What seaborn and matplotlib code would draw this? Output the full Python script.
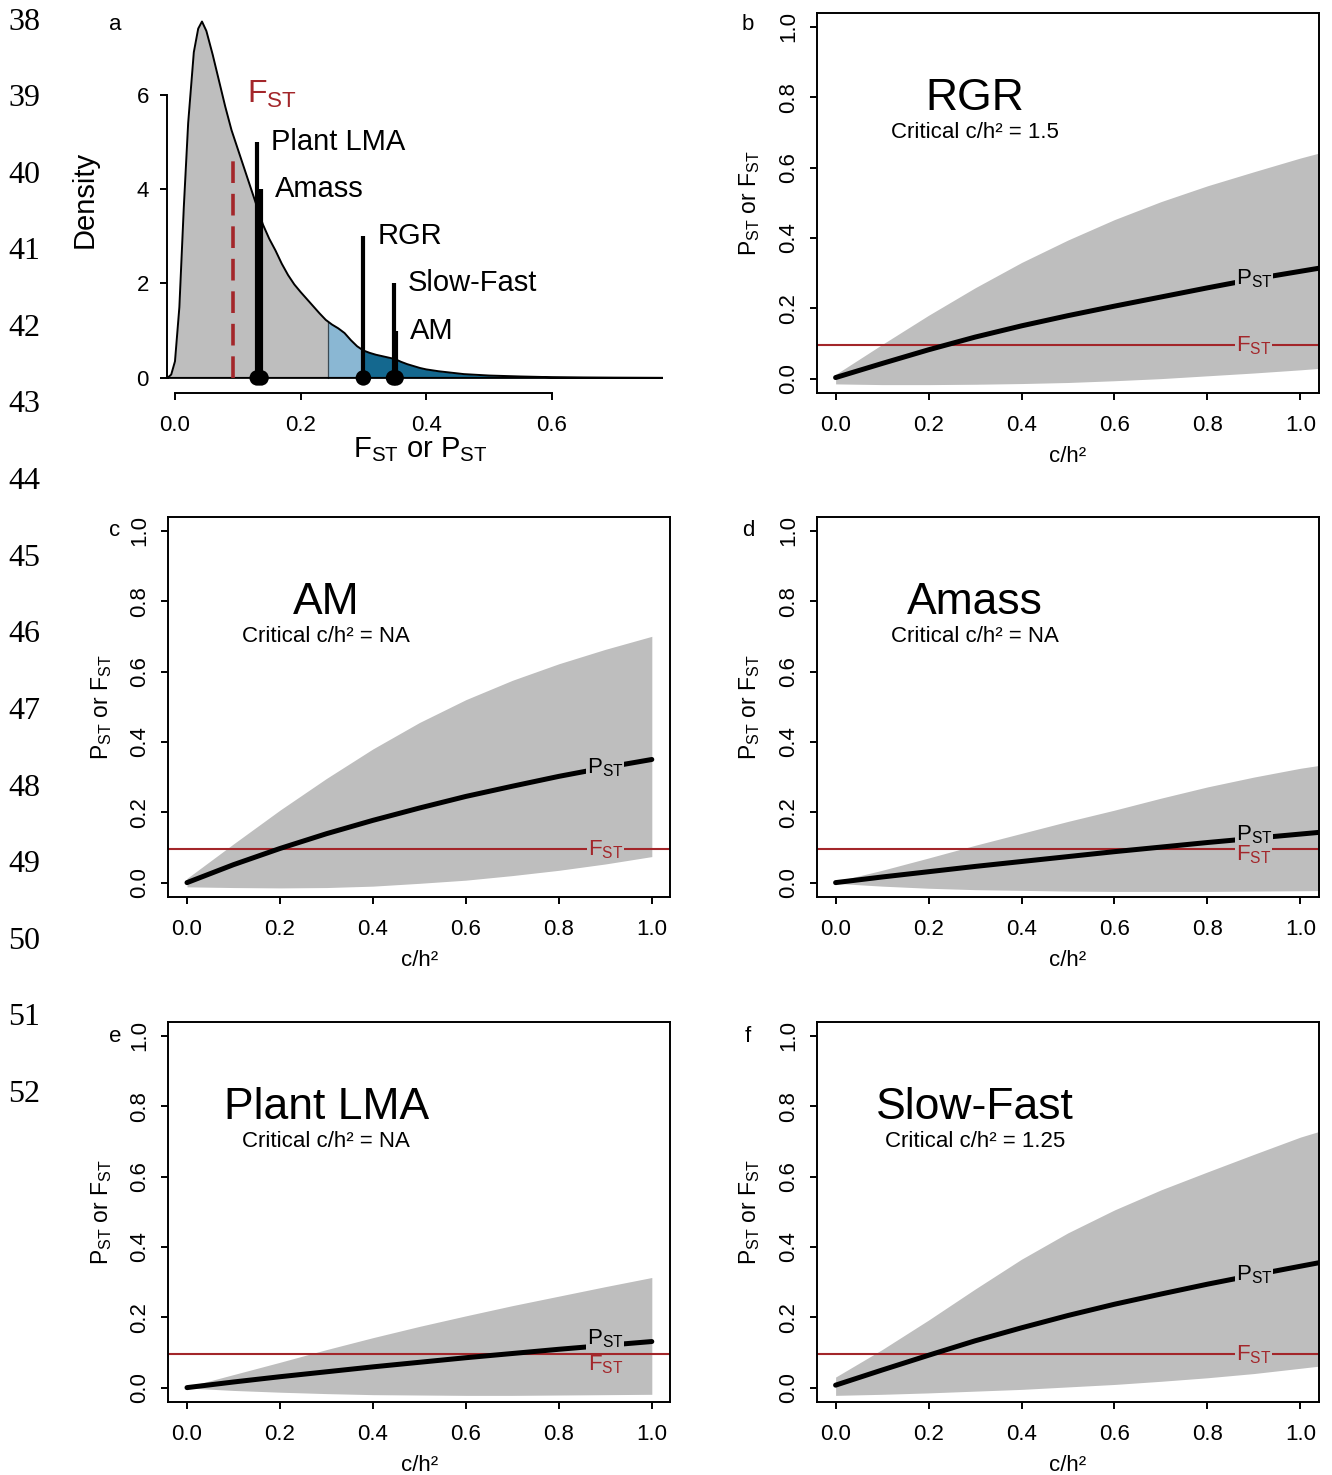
import numpy as np
import matplotlib
matplotlib.use("Agg")
import matplotlib.pyplot as plt
import seaborn as sns

# ---------------- panel a: null distribution of F_ST and observed P_ST ----------------
dens_x = [-0.012, -0.006, 0.000, 0.007, 0.014, 0.021, 0.030, 0.037, 0.043, 0.050,
          0.060, 0.070, 0.080, 0.090, 0.100, 0.110, 0.120, 0.130, 0.140, 0.150,
          0.160, 0.170, 0.180, 0.190, 0.200, 0.210, 0.220, 0.230, 0.240, 0.250,
          0.260, 0.270, 0.280, 0.290, 0.300, 0.310, 0.320, 0.330, 0.340, 0.350,
          0.360, 0.370, 0.380, 0.390, 0.400, 0.420, 0.440, 0.460, 0.480, 0.500,
          0.550, 0.600, 0.650, 0.700, 0.777]
dens_y = [0.00, 0.07, 0.35, 1.50, 3.60, 5.40, 6.90, 7.40, 7.55, 7.35,
          6.85, 6.30, 5.75, 5.25, 4.85, 4.45, 4.05, 3.65, 3.25, 2.95,
          2.70, 2.42, 2.18, 1.98, 1.82, 1.67, 1.52, 1.37, 1.23, 1.13,
          1.05, 0.95, 0.80, 0.67, 0.58, 0.53, 0.49, 0.46, 0.43, 0.40,
          0.34, 0.29, 0.25, 0.21, 0.18, 0.14, 0.11, 0.08, 0.065, 0.05,
          0.03, 0.015, 0.008, 0.004, 0.0]
fst_mean = 0.093
fst_marker_height = 4.8
q_light = 0.244
q_dark = 0.300

traits = ["Plant LMA", "Amass", "RGR", "Slow-Fast", "AM"]
pst_obs = [0.131, 0.137, 0.300, 0.348, 0.352]
bar_heights = [5, 4, 3, 2, 1]

# ---------------- panels b-f: P_ST against c/h² ----------------
ch2_long = [0.0, 0.1, 0.2, 0.3, 0.4, 0.5, 0.6, 0.7, 0.8, 0.9, 1.0, 1.1]
ch2_short = [0.0, 0.1, 0.2, 0.3, 0.4, 0.5, 0.6, 0.7, 0.8, 0.9, 1.0]
fst_value = 0.095

rgr_pst = [0.003, 0.043, 0.082, 0.118, 0.150, 0.179, 0.206, 0.232, 0.258, 0.283, 0.305, 0.327]
rgr_lo = [-0.015, -0.017, -0.017, -0.016, -0.014, -0.011, -0.006, 0.000, 0.008, 0.016, 0.025, 0.035]
rgr_hi = [0.012, 0.097, 0.180, 0.258, 0.330, 0.394, 0.452, 0.503, 0.548, 0.588, 0.627, 0.662]

am_pst = [0.000, 0.051, 0.097, 0.139, 0.177, 0.212, 0.245, 0.274, 0.302, 0.327, 0.350]
am_lo = [-0.012, -0.014, -0.015, -0.014, -0.010, -0.002, 0.007, 0.020, 0.035, 0.053, 0.074]
am_hi = [0.012, 0.110, 0.206, 0.296, 0.380, 0.455, 0.520, 0.575, 0.622, 0.663, 0.700]

amass_pst = [0.000, 0.016, 0.031, 0.046, 0.060, 0.074, 0.088, 0.101, 0.114, 0.126, 0.138, 0.150]
amass_lo = [-0.002, -0.010, -0.016, -0.020, -0.022, -0.024, -0.025, -0.025, -0.025, -0.024, -0.023, -0.022]
amass_hi = [0.003, 0.035, 0.070, 0.106, 0.140, 0.174, 0.206, 0.240, 0.272, 0.300, 0.325, 0.345]

lma_pst = [0.000, 0.016, 0.031, 0.045, 0.059, 0.072, 0.085, 0.097, 0.109, 0.120, 0.131]
lma_lo = [-0.001, -0.008, -0.013, -0.017, -0.020, -0.021, -0.022, -0.022, -0.021, -0.020, -0.019]
lma_hi = [0.002, 0.037, 0.072, 0.108, 0.142, 0.174, 0.204, 0.233, 0.260, 0.287, 0.313]

sf_pst = [0.007, 0.050, 0.092, 0.133, 0.170, 0.205, 0.237, 0.266, 0.294, 0.320, 0.345, 0.370]
sf_lo = [-0.022, -0.019, -0.015, -0.010, -0.005, 0.002, 0.009, 0.018, 0.028, 0.040, 0.055, 0.070]
sf_hi = [0.030, 0.108, 0.192, 0.280, 0.365, 0.440, 0.505, 0.562, 0.613, 0.663, 0.712, 0.752]

critical = {"RGR": "1.5", "AM": "NA", "Amass": "NA", "Plant LMA": "NA", "Slow-Fast": "1.25"}
line_numbers = list(range(38, 53))

# ---------------- style ----------------
sns.set_theme(style="ticks")
plt.rcParams["font.family"] = ["Liberation Sans", "DejaVu Sans"]
plt.rcParams["mathtext.default"] = "regular"
plt.rcParams["axes.edgecolor"] = "black"
plt.rcParams["axes.labelcolor"] = "black"
plt.rcParams["text.color"] = "black"
plt.rcParams["xtick.color"] = "black"
plt.rcParams["ytick.color"] = "black"

GREY = "#bebebe"
RED = "#a3262a"
LIGHT_BLUE = "#8ab7d3"
DARK_BLUE = "#14688f"

W, H = 1332, 1475
fig = plt.figure(figsize=(W / 100, H / 100), dpi=100)


def px_axes(left, top, right, bottom):
    return fig.add_axes([left / W, 1 - bottom / H, (right - left) / W, (bottom - top) / H])


# ---------------- panel a ----------------
ax = px_axes(167, 5, 663, 393)
ax.set_xlim(-0.0127, 0.777)
ax.set_ylim(-0.32, 7.9)

dx = np.array(dens_x)
dy = np.array(dens_y)


def segment(lo, hi):
    inner = dx[(dx > lo) & (dx < hi)]
    xs = np.concatenate([[lo], inner, [hi]])
    return xs, np.interp(xs, dx, dy)


xs, ys = segment(dx[0], q_light)
ax.fill_between(xs, 0, ys, color=GREY, lw=0, zorder=1)
xs, ys = segment(q_light, q_dark)
ax.fill_between(xs, 0, ys, color=LIGHT_BLUE, lw=0, zorder=1)
xs, ys = segment(q_dark, dx[-1])
ax.fill_between(xs, 0, ys, color=DARK_BLUE, lw=0, zorder=1)
ax.plot([q_light, q_light], [0, np.interp(q_light, dx, dy)], color="#3a4a55", lw=0.9, zorder=2)

sns.lineplot(x=list(dens_x) + [dens_x[0]], y=list(dens_y) + [0.0], sort=False,
             estimator=None, color="black", lw=1.4, ax=ax, zorder=3)

ax.plot([fst_mean, fst_mean], [0, fst_marker_height], color=RED, lw=2.6,
        ls=(0, (6, 3)), zorder=4)
ax.text(fst_mean + 0.022, 6.0, r"$\mathregular{F_{ST}}$", color=RED, size=23,
        ha="left", va="center")

ax.vlines(pst_obs, 0, bar_heights, color="black", lw=3.0, zorder=5)
sns.scatterplot(x=pst_obs, y=[0] * len(pst_obs), s=125, color="black",
                edgecolor="none", ax=ax, zorder=6, clip_on=False)
for name, xv, hv in zip(traits, pst_obs, bar_heights):
    ax.text(xv + 0.022, hv, name, size=21, ha="left", va="center")

for side in ["top", "right"]:
    ax.spines[side].set_visible(False)
ax.spines["left"].set_bounds(0, 6)
ax.spines["bottom"].set_bounds(0, 0.6)
for side in ["left", "bottom"]:
    ax.spines[side].set_linewidth(1.4)
ax.set_xticks([0, 0.2, 0.4, 0.6])
ax.set_xticklabels(["0.0", "0.2", "0.4", "0.6"])
ax.set_yticks([0, 2, 4, 6])
ax.set_yticklabels(["0", "2", "4", "6"])
ax.tick_params(axis="x", direction="out", length=5, width=1.4, labelsize=16, pad=11)
ax.tick_params(axis="y", direction="out", length=5, width=1.4, labelsize=16, pad=8)
ax.set_xlabel(r"$\mathregular{F_{ST}}$ or $\mathregular{P_{ST}}$", size=21)
ax.xaxis.set_label_coords(0.51, -57 / 388)
ax.xaxis.label.set_va("center")
ax.set_ylabel("Density", size=21)
ax.yaxis.set_label_coords(-82 / 496, 0.5)
ax.yaxis.label.set_va("center")

# ---------------- panels b-f ----------------
panels = [
    ("RGR", "b", (817, 12.7), ch2_long, rgr_pst, rgr_lo, rgr_hi, (0.0, 0.0)),
    ("AM", "c", (168.4, 516.7), ch2_short, am_pst, am_lo, am_hi, (0.0, 0.0)),
    ("Amass", "d", (817, 516.7), ch2_long, amass_pst, amass_lo, amass_hi, (0.010, -0.016)),
    ("Plant LMA", "e", (168.4, 1021.7), ch2_short, lma_pst, lma_lo, lma_hi, (0.020, -0.031)),
    ("Slow-Fast", "f", (817, 1021.7), ch2_long, sf_pst, sf_lo, sf_hi, (0.0, 0.0)),
]

BOX_W, BOX_H = 502, 380
for name, letter, (left, top), ch2, pst, lo, hi, (dp, df) in panels:
    ax = px_axes(left, top, left + BOX_W, top + BOX_H)
    ax.set_xlim(-0.04, 1.04)
    ax.set_ylim(-0.04, 1.04)

    ax.fill_between(ch2, lo, hi, color=GREY, lw=0, zorder=1)
    ax.axhline(fst_value, color=RED, lw=1.5, zorder=2)
    sns.lineplot(x=ch2, y=pst, color="black", lw=3.6, ax=ax, zorder=3)

    p_lab = np.interp(0.9, ch2, pst) + dp
    ax.text(0.9, p_lab, r"$\mathregular{P_{ST}}$", size=16, ha="center", va="center",
            zorder=4, bbox=dict(facecolor=GREY, edgecolor="none", pad=0.6))
    f_box = dict(facecolor=GREY, edgecolor="none", pad=0.6) if df > -0.02 else None
    ax.text(0.9, fst_value + df, r"$\mathregular{F_{ST}}$", size=16, color=RED,
            ha="center", va="center", zorder=4 if f_box else 1.5, bbox=f_box)

    ax.text(0.3, 0.797, name, size=32, ha="center", va="center")
    ax.text(0.3, 0.70, "Critical c/h\u00b2 = " + critical[name], size=16,
            ha="center", va="center")

    ticks = [0.0, 0.2, 0.4, 0.6, 0.8, 1.0]
    labels = ["0.0", "0.2", "0.4", "0.6", "0.8", "1.0"]
    ax.set_xticks(ticks)
    ax.set_xticklabels(labels)
    ax.set_yticks(ticks)
    ax.set_yticklabels(labels, rotation=90, va="center")
    ax.tick_params(axis="x", direction="out", length=5, width=1.4, labelsize=16, pad=11)
    ax.tick_params(axis="y", direction="out", length=5, width=1.4, labelsize=16, pad=8)
    for sp in ax.spines.values():
        sp.set_linewidth(1.4)
        sp.set_color("black")

    ax.set_xlabel("c/h\u00b2", size=16)
    ax.xaxis.set_label_coords(0.5, -64 / BOX_H)
    ax.xaxis.label.set_va("center")
    ax.set_ylabel(r"$\mathregular{P_{ST}}$ or $\mathregular{F_{ST}}$", size=16.5)
    ax.yaxis.set_label_coords(-67 / BOX_W, 0.5)
    ax.yaxis.label.set_va("center")

# ---------------- panel letters and margin line numbers ----------------
letters = [("a", 115, 25), ("b", 748, 25), ("c", 115, 531), ("d", 748, 531),
           ("e", 115, 1036), ("f", 748, 1036)]
for txt, x, y in letters:
    fig.text(x / W, 1 - y / H, txt, size=16, ha="center", va="center")

for i, num in enumerate(line_numbers):
    y = 22 + i * 76.6
    fig.text(24 / W, 1 - y / H, str(num), size=23, family="Liberation Serif",
             ha="center", va="center")

fig.savefig("out.png", dpi=100, facecolor="white")
